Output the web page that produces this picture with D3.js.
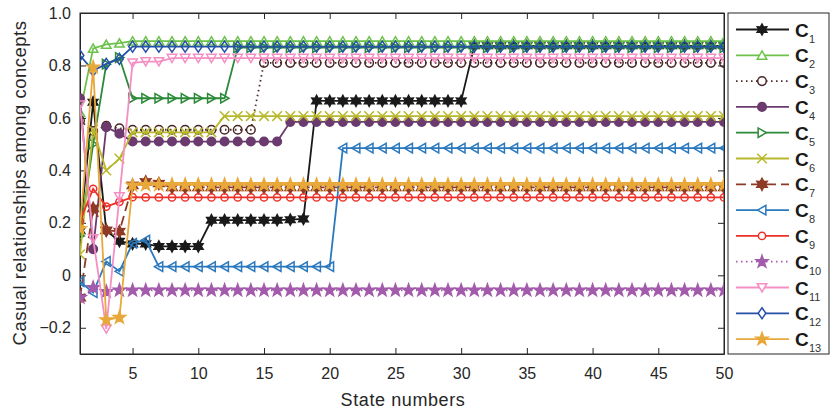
<!DOCTYPE html>
<html>
<head>
<meta charset="utf-8">
<script src="https://cdn.jsdelivr.net/npm/d3@7"></script>
<style>
  body { margin: 0; background: #fff; }
  text { font-family: "Liberation Sans", Arial, sans-serif; }
</style>
</head>
<body>
<svg width="830" height="413"></svg>
<script>
// state numbers 1..50
var states = [1,2,3,4,5,6,7,8,9,10,11,12,13,14,15,16,17,18,19,20,21,22,23,24,25,26,27,28,29,30,31,32,33,34,35,36,37,38,39,40,41,42,43,44,45,46,47,48,49,50]

var c1 = [0.17,0.66,0.17,0.13,0.12,0.12,0.11,0.11,0.11,0.11,0.21,0.21,0.21,0.21,0.21,0.21,0.212,0.215,0.665,0.665,0.665,0.665,0.665,0.665,0.665,0.665,0.665,0.665,0.665,0.665,0.875,0.875,0.875,0.875,0.875,0.875,0.875,0.875,0.875,0.875,0.875,0.875,0.875,0.875,0.875,0.875,0.875,0.875,0.875,0.875]
var c2 = [0.62,0.865,0.88,0.885,0.893,0.893,0.893,0.893,0.893,0.893,0.893,0.893,0.893,0.893,0.893,0.893,0.893,0.893,0.893,0.893,0.893,0.893,0.893,0.893,0.893,0.893,0.893,0.893,0.893,0.893,0.893,0.893,0.893,0.893,0.893,0.893,0.893,0.893,0.893,0.893,0.893,0.893,0.893,0.893,0.893,0.893,0.893,0.893,0.893,0.893]
var c3 = [0.59,0.55,0.57,0.56,0.555,0.555,0.555,0.555,0.555,0.555,0.555,0.555,0.555,0.555,0.81,0.81,0.81,0.81,0.81,0.81,0.81,0.81,0.81,0.81,0.81,0.81,0.81,0.81,0.81,0.81,0.81,0.81,0.81,0.81,0.81,0.81,0.81,0.81,0.81,0.81,0.81,0.81,0.81,0.81,0.81,0.81,0.81,0.81,0.81,0.81]
var c4 = [0.675,0.10,0.565,0.54,0.51,0.51,0.51,0.51,0.51,0.51,0.51,0.51,0.51,0.51,0.51,0.51,0.585,0.585,0.585,0.585,0.585,0.585,0.585,0.585,0.585,0.585,0.585,0.585,0.585,0.585,0.585,0.585,0.585,0.585,0.585,0.585,0.585,0.585,0.585,0.585,0.585,0.585,0.585,0.585,0.585,0.585,0.585,0.585,0.585,0.585]
var c5 = [0.15,0.5,0.805,0.83,0.675,0.675,0.675,0.675,0.675,0.675,0.675,0.675,0.868,0.868,0.868,0.868,0.868,0.868,0.868,0.868,0.868,0.868,0.868,0.868,0.868,0.868,0.868,0.868,0.868,0.868,0.868,0.868,0.868,0.868,0.868,0.868,0.868,0.868,0.868,0.868,0.868,0.868,0.868,0.868,0.868,0.868,0.868,0.868,0.868,0.868]
var c6 = [0.08,0.555,0.40,0.445,0.545,0.545,0.545,0.545,0.545,0.545,0.545,0.607,0.607,0.607,0.607,0.607,0.607,0.607,0.607,0.607,0.607,0.607,0.607,0.607,0.607,0.607,0.607,0.607,0.607,0.607,0.607,0.607,0.607,0.607,0.607,0.607,0.607,0.607,0.607,0.607,0.607,0.607,0.607,0.607,0.607,0.607,0.607,0.607,0.607,0.607]
var c7 = [-0.085,0.255,0.172,0.167,0.343,0.356,0.35,0.335,0.335,0.335,0.335,0.335,0.335,0.335,0.335,0.335,0.335,0.335,0.335,0.335,0.335,0.335,0.335,0.335,0.335,0.335,0.335,0.335,0.335,0.335,0.335,0.335,0.335,0.335,0.335,0.335,0.335,0.335,0.335,0.335,0.335,0.335,0.335,0.335,0.335,0.335,0.335,0.335,0.335,0.335]
var c8 = [-0.024,-0.066,0.053,0.015,0.122,0.134,0.033,0.033,0.033,0.033,0.033,0.033,0.033,0.033,0.033,0.033,0.033,0.033,0.033,0.033,0.485,0.485,0.485,0.485,0.485,0.485,0.485,0.485,0.485,0.485,0.485,0.485,0.485,0.485,0.485,0.485,0.485,0.485,0.485,0.485,0.485,0.485,0.485,0.485,0.485,0.485,0.485,0.485,0.485,0.485]
var c9 = [0.206,0.33,0.262,0.28,0.298,0.297,0.297,0.297,0.297,0.297,0.297,0.297,0.297,0.297,0.297,0.297,0.297,0.297,0.297,0.297,0.297,0.297,0.297,0.297,0.297,0.297,0.297,0.297,0.297,0.297,0.297,0.297,0.297,0.297,0.297,0.297,0.297,0.297,0.297,0.297,0.297,0.297,0.297,0.297,0.297,0.297,0.297,0.297,0.297,0.297]
var c10 = [-0.085,-0.047,-0.062,-0.057,-0.057,-0.057,-0.057,-0.057,-0.057,-0.057,-0.057,-0.057,-0.057,-0.057,-0.057,-0.057,-0.057,-0.057,-0.057,-0.057,-0.057,-0.057,-0.057,-0.057,-0.057,-0.057,-0.057,-0.057,-0.057,-0.057,-0.057,-0.057,-0.057,-0.057,-0.057,-0.057,-0.057,-0.057,-0.057,-0.057,-0.057,-0.057,-0.057,-0.057,-0.057,-0.057,-0.057,-0.057,-0.057,-0.057]
var c11 = [0.65,0.14,-0.204,0.30,0.81,0.815,0.815,0.828,0.828,0.828,0.828,0.828,0.828,0.828,0.828,0.828,0.828,0.828,0.828,0.828,0.828,0.828,0.828,0.828,0.828,0.828,0.828,0.828,0.828,0.828,0.828,0.828,0.828,0.828,0.828,0.828,0.828,0.828,0.828,0.828,0.828,0.828,0.828,0.828,0.828,0.828,0.828,0.828,0.828,0.828]
var c12 = [0.838,0.78,0.806,0.825,0.872,0.872,0.872,0.872,0.872,0.872,0.872,0.872,0.872,0.872,0.872,0.872,0.872,0.872,0.872,0.872,0.872,0.872,0.872,0.872,0.872,0.872,0.872,0.872,0.872,0.872,0.872,0.872,0.872,0.872,0.872,0.872,0.872,0.872,0.872,0.872,0.872,0.872,0.872,0.872,0.872,0.872,0.872,0.872,0.872,0.872]
var c13 = [0.178,0.793,-0.17,-0.161,0.343,0.345,0.345,0.345,0.345,0.345,0.345,0.345,0.345,0.345,0.345,0.345,0.345,0.345,0.345,0.345,0.345,0.345,0.345,0.345,0.345,0.345,0.345,0.345,0.345,0.345,0.345,0.345,0.345,0.345,0.345,0.345,0.345,0.345,0.345,0.345,0.345,0.345,0.345,0.345,0.345,0.345,0.345,0.345,0.345,0.345]

var xTicks = [5,10,15,20,25,30,35,40,45,50]
var yTicks = [-0.2,0,0.2,0.4,0.6,0.8,1.0]
var yTickLabels = ["\u22120.2","0","0.2","0.4","0.6","0.8","1.0"]

// styling for each concept (not data)
var series = [
  { sub: "1",  vals: c1,  color: "#1a1a1a", mark: "hexagram", r: 5.5, fill: true,  dash: null },
  { sub: "2",  vals: c2,  color: "#6cc24a", mark: "triUp",    r: 5.5, fill: false, dash: null },
  { sub: "3",  vals: c3,  color: "#4a2626", mark: "circle",   r: 4.3, fill: false, dash: "1.5,3.5" },
  { sub: "4",  vals: c4,  color: "#6b3a6e", mark: "circle",   r: 4.3, fill: true,  dash: null },
  { sub: "5",  vals: c5,  color: "#2d8a3a", mark: "triRight", r: 5.5, fill: false, dash: null },
  { sub: "6",  vals: c6,  color: "#b8b82c", mark: "x",        r: 4.8, fill: false, dash: null },
  { sub: "7",  vals: c7,  color: "#8e3b26", mark: "hexagram", r: 6,   fill: true,  dash: "10,5" },
  { sub: "8",  vals: c8,  color: "#2a78bd", mark: "triLeft",  r: 5.5, fill: false, dash: null },
  { sub: "9",  vals: c9,  color: "#ee3028", mark: "circle",   r: 3.6, fill: false, dash: null },
  { sub: "10", vals: c10, color: "#a35bab", mark: "pentagram",r: 6.3, fill: true,  dash: "1.5,3.5" },
  { sub: "11", vals: c11, color: "#f48fc4", mark: "triDown",  r: 5.5, fill: false, dash: null },
  { sub: "12", vals: c12, color: "#2451a6", mark: "diamond",  r: 5.5, fill: false, dash: null },
  { sub: "13", vals: c13, color: "#e8a83a", mark: "pentagram",r: 6.5, fill: true,  dash: null }
]

function starPath(n, ro, ri) {
  var p = []
  for (var i = 0; i < 2*n; i++) {
    var a = -Math.PI/2 + i*Math.PI/n
    var rr = i % 2 ? ri : ro
    p.push([rr*Math.cos(a), rr*Math.sin(a)])
  }
  return "M" + p.join("L") + "Z"
}
function triPath(r, rot) {
  var p = []
  for (var i = 0; i < 3; i++) {
    var a = (rot - 90 + i*120) * Math.PI/180
    p.push([r*Math.cos(a), r*Math.sin(a) + (rot == 0 ? r*0.2 : rot == 180 ? -r*0.2 : 0)])
  }
  if (rot == 90) p = p.map(function(q){ return [q[0]-r*0.2, q[1]] })
  if (rot == 270) p = p.map(function(q){ return [q[0]+r*0.2, q[1]] })
  return "M" + p.join("L") + "Z"
}
function markerPath(m, r) {
  switch (m) {
    case "hexagram": return starPath(6, r, r*0.55)
    case "pentagram": return starPath(5, r, r*0.4)
    case "triUp": return triPath(r, 0)
    case "triDown": return triPath(r, 180)
    case "triRight": return triPath(r, 90)
    case "triLeft": return triPath(r, 270)
    case "diamond": return "M0," + (-r) + "L" + (r*0.7) + ",0L0," + r + "L" + (-r*0.7) + ",0Z"
    case "x": return "M" + (-r) + "," + (-r) + "L" + r + "," + r + "M" + (-r) + "," + r + "L" + r + "," + (-r)
    case "circle": return d3.arc()({ innerRadius: 0, outerRadius: r, startAngle: 0, endAngle: 2*Math.PI })
  }
}

var svg = d3.select("svg")
var pLeft = 80, pRight = 724, pTop = 13, pBottom = 354

var x = d3.scaleLinear().domain([1, 50]).range([pLeft, pRight])
var y = d3.scaleLinear().domain([-0.3, 1.0]).range([pBottom, pTop])

var defs = svg.append("defs")
defs.append("clipPath").attr("id", "plotclip")
  .append("rect").attr("x", pLeft).attr("y", pTop).attr("width", pRight-pLeft).attr("height", pBottom-pTop)

// axes, ticks pointing inward like the matlab box
var axisColor = "#262626"
svg.append("g").attr("transform", "translate(0," + pBottom + ")")
  .call(d3.axisBottom(x).tickValues(xTicks).tickSize(-6).tickPadding(14).tickSizeOuter(0))
svg.append("g").attr("transform", "translate(0," + pTop + ")")
  .call(d3.axisTop(x).tickValues(xTicks).tickSize(-6).tickFormat("").tickSizeOuter(0))
svg.append("g").attr("transform", "translate(" + pLeft + ",0)")
  .call(d3.axisLeft(y).tickValues(yTicks).tickSize(-6).tickPadding(9).tickSizeOuter(0)
    .tickFormat(function(d, i) { return yTickLabels[i] }))
svg.append("g").attr("transform", "translate(" + pRight + ",0)")
  .call(d3.axisRight(y).tickValues(yTicks).tickSize(-6).tickFormat("").tickSizeOuter(0))
svg.selectAll(".domain").attr("stroke", axisColor)
svg.selectAll(".tick line").attr("stroke", axisColor)
svg.selectAll(".tick text").attr("fill", "#262626").style("font-size", "16px")
  .style("font-family", "'Liberation Sans', Arial, sans-serif")

svg.append("rect").attr("x", pLeft).attr("y", pTop).attr("width", pRight-pLeft).attr("height", pBottom-pTop)
  .attr("fill", "none").attr("stroke", axisColor).attr("stroke-width", 1)

// axis titles
svg.append("text").attr("x", 403).attr("y", 406).attr("text-anchor", "middle")
  .style("font-size", "18px").style("letter-spacing", "0.6px").attr("fill", "#262626").text("State numbers")
svg.append("text").attr("transform", "translate(26,183) rotate(-90)").attr("text-anchor", "middle")
  .style("font-size", "18.5px").style("letter-spacing", "0.5px").attr("fill", "#262626")
  .text("Casual relationships among concepts")

// lines and markers
var plot = svg.append("g").attr("clip-path", "url(#plotclip)")
var line = d3.line().x(function(d, i) { return x(states[i]) }).y(function(d) { return y(d) })

series.forEach(function(s) {
  var g = plot.append("g")
  g.append("path").datum(s.vals).attr("d", line)
    .attr("fill", "none").attr("stroke", s.color).attr("stroke-width", 1.8)
    .attr("stroke-dasharray", s.dash)
  g.selectAll("path.mk").data(s.vals).enter().append("path").attr("class", "mk")
    .attr("transform", function(d, i) { return "translate(" + x(states[i]) + "," + y(d) + ")" })
    .attr("d", markerPath(s.mark, s.r))
    .attr("fill", s.fill ? s.color : "none")
    .attr("stroke", s.color).attr("stroke-width", 1.5)
})

// legend
var lg = svg.append("g")
lg.append("rect").attr("x", 728).attr("y", 13).attr("width", 101).attr("height", 341)
  .attr("fill", "#fff").attr("stroke", axisColor).attr("stroke-width", 1)
series.forEach(function(s, i) {
  var ly = 29.5 + i*25.8
  var g = lg.append("g").attr("transform", "translate(0," + ly + ")")
  g.append("line").attr("x1", 736).attr("x2", 789).attr("y1", 0).attr("y2", 0)
    .attr("stroke", s.color).attr("stroke-width", 1.8).attr("stroke-dasharray", s.dash)
  g.append("path").attr("transform", "translate(762,0)").attr("d", markerPath(s.mark, s.r))
    .attr("fill", s.fill ? s.color : "#fff").attr("stroke", s.color).attr("stroke-width", 1.5)
  g.append("text").attr("x", 795).attr("y", 7).style("font-size", "19px").style("font-weight", "bold")
    .attr("fill", "#1a1a1a").text("C")
  g.append("text").attr("x", 809).attr("y", 13).style("font-size", "11px")
    .attr("fill", "#333").text(s.sub)
})
</script>
</body>
</html>
